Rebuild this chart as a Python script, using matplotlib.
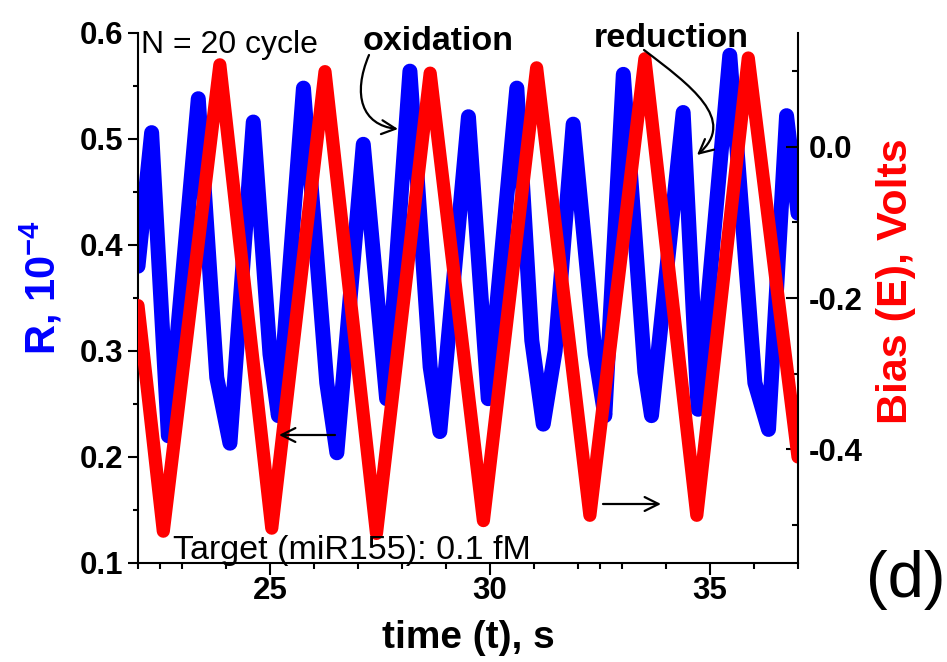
import matplotlib
matplotlib.use('Agg')
import matplotlib.pyplot as plt
import matplotlib.ticker as mticker
from matplotlib.patches import FancyArrowPatch
from matplotlib.path import Path

plt.rcParams['font.family'] = ['Liberation Sans', 'DejaVu Sans']
plt.rcParams['axes.unicode_minus'] = False
plt.rcParams['mathtext.fontset'] = 'custom'
plt.rcParams['mathtext.rm'] = 'Liberation Sans'
plt.rcParams['mathtext.bf'] = 'Liberation Sans:bold'
plt.rcParams['mathtext.it'] = 'Liberation Sans:italic'

# ---------------- data ----------------
# blue trace: R (x 10^-4) versus time
time_blue = [22.00, 22.31, 22.69, 23.37, 23.79, 24.09, 24.62, 25.00, 25.19,
             25.76, 26.29, 26.52, 27.12, 27.65, 28.18, 28.64, 28.86, 29.51,
             29.96, 30.61, 30.95, 31.21, 31.48, 31.89, 32.39, 32.61, 33.03,
             33.52, 33.67, 34.39, 34.73, 35.45, 36.02, 36.33, 36.74, 37.00]
R_blue = [0.380, 0.506, 0.220, 0.538, 0.275, 0.213, 0.516, 0.297, 0.239,
          0.548, 0.270, 0.204, 0.495, 0.255, 0.564, 0.285, 0.224, 0.521,
          0.255, 0.548, 0.310, 0.231, 0.300, 0.514, 0.297, 0.239, 0.561,
          0.280, 0.239, 0.525, 0.245, 0.579, 0.270, 0.226, 0.522, 0.430]

# red trace: bias (V) versus time
time_red = [22.00, 22.575, 23.86, 25.04, 26.25, 27.42, 28.64, 29.85,
            31.06, 32.27, 33.52, 34.70, 35.87, 37.00]
bias_red = [-0.210, -0.508, 0.108, -0.504, 0.099, -0.511, 0.097, -0.494,
            0.104, -0.487, 0.116, -0.487, 0.117, -0.410]

x_major = [25, 30, 35]
x_minor = [22, 22.5, 23, 24, 26, 27, 28, 29, 31, 32, 32.5, 33, 34, 36, 37]
left_major = [0.1, 0.2, 0.3, 0.4, 0.5, 0.6]
left_minor = [0.15, 0.25, 0.35, 0.45, 0.55]
right_major = [-0.4, -0.2, 0.0]
right_minor = [-0.5, -0.3, -0.1, 0.1]

W, H = 947, 662


def F(px, py):
    return (px / W, 1 - py / H)


fig = plt.figure(figsize=(W / 100, H / 100), dpi=100)
fig.patch.set_facecolor('white')
ax = fig.add_axes([138 / W, 1 - 563 / H, 660 / W, 530 / H])
ax2 = ax.twinx()

ax.plot(time_blue, R_blue, color='#0000FF', lw=10.8,
        solid_joinstyle='round', solid_capstyle='round')
ax2.plot(time_red, bias_red, color='#FF0000', lw=9.5,
         solid_joinstyle='round', solid_capstyle='round')

ax.set_xlim(22, 37)
ax.set_ylim(0.1, 0.6)
ax2.set_ylim(-0.55, 0.15)

for a in (ax, ax2):
    a.spines['top'].set_visible(False)
    for s in a.spines.values():
        s.set_linewidth(1.5)
ax.spines['right'].set_visible(False)
ax2.spines['left'].set_visible(False)
ax2.spines['bottom'].set_visible(False)

ax.set_xticks(x_major)
ax.set_xticks(x_minor, minor=True)
ax.set_yticks(left_major)
ax.set_yticks(left_minor, minor=True)
ax2.set_yticks(right_major)
ax2.set_yticks(right_minor, minor=True)
ax.xaxis.set_major_formatter(mticker.FormatStrFormatter('%d'))
ax.yaxis.set_major_formatter(mticker.FormatStrFormatter('%.1f'))
ax2.yaxis.set_major_formatter(mticker.FormatStrFormatter('%.1f'))

ax.tick_params(axis='y', which='major', direction='out', length=7, width=1.5,
               pad=3.5, labelsize=22.5)
ax.tick_params(axis='y', which='minor', direction='out', length=3.8, width=1.5)
ax.tick_params(axis='x', which='major', direction='out', length=8.5, width=1.5,
               pad=1, labelsize=22.5)
ax.tick_params(axis='x', which='minor', direction='out', length=4.3, width=1.5)
ax2.tick_params(axis='y', which='major', direction='in', length=8.5, width=1.5,
                pad=8, labelsize=22.5)
ax2.tick_params(axis='y', which='minor', direction='in', length=4.3, width=1.5)

for lab in ax.get_xticklabels() + ax.get_yticklabels() + ax2.get_yticklabels():
    lab.set_fontweight('bold')

ax.set_xlabel('time (t), s', fontsize=28, fontweight='bold', va='baseline')
ax.xaxis.set_label_coords(0.5, (563 - 648) / 530)

ax.set_ylabel(r'R, 10$^{\mathbf{-4}}$', color='#0000FF', fontsize=30,
              fontweight='bold', va='baseline')
ax.yaxis.set_label_coords((55 - 138) / 660, (563 - 287.5) / 530)

ax2.set_ylabel('Bias (E), Volts', color='#FF0000', fontsize=31,
               fontweight='bold')
ax2.yaxis.set_label_coords((876 - 138) / 660, (563 - 281.5) / 530)

# ---------------- text annotations ----------------
fig.text(*F(141, 53), 'N = 20 cycle', fontsize=23, ha='left', va='baseline')
fig.text(*F(363, 50), 'oxidation', fontsize=24.5, fontweight='bold',
         ha='left', va='baseline')
fig.text(*F(594, 47), 'reduction', fontsize=24.5, fontweight='bold',
         ha='left', va='baseline')
fig.text(*F(173, 559), 'Target (miR155): 0.1 fM', fontsize=24.5,
         ha='left', va='baseline')
fig.text(*F(906, 597), '(d)', fontsize=47, ha='center', va='baseline')

astyle = '->,head_length=0.5,head_width=0.25'


def curved_arrow(pts):
    path = Path([F(*p) for p in pts],
                [Path.MOVETO, Path.CURVE4, Path.CURVE4, Path.CURVE4])
    arr = FancyArrowPatch(path=path, arrowstyle=astyle, mutation_scale=20,
                          lw=1.6, color='black', transform=fig.transFigure)
    fig.add_artist(arr)


def straight_arrow(p0, p1):
    arr = FancyArrowPatch(F(*p0), F(*p1), arrowstyle=astyle, mutation_scale=20,
                          lw=1.6, color='black', transform=fig.transFigure,
                          shrinkA=0, shrinkB=0)
    fig.add_artist(arr)


curved_arrow([(369, 55), (352, 95), (362, 125), (398, 129)])
curved_arrow([(644, 50), (690, 85), (738, 120), (697, 155)])
straight_arrow((335, 435), (279, 435))
straight_arrow((603, 504), (661, 504))

fig.savefig('out.png', dpi=100, facecolor='white')
